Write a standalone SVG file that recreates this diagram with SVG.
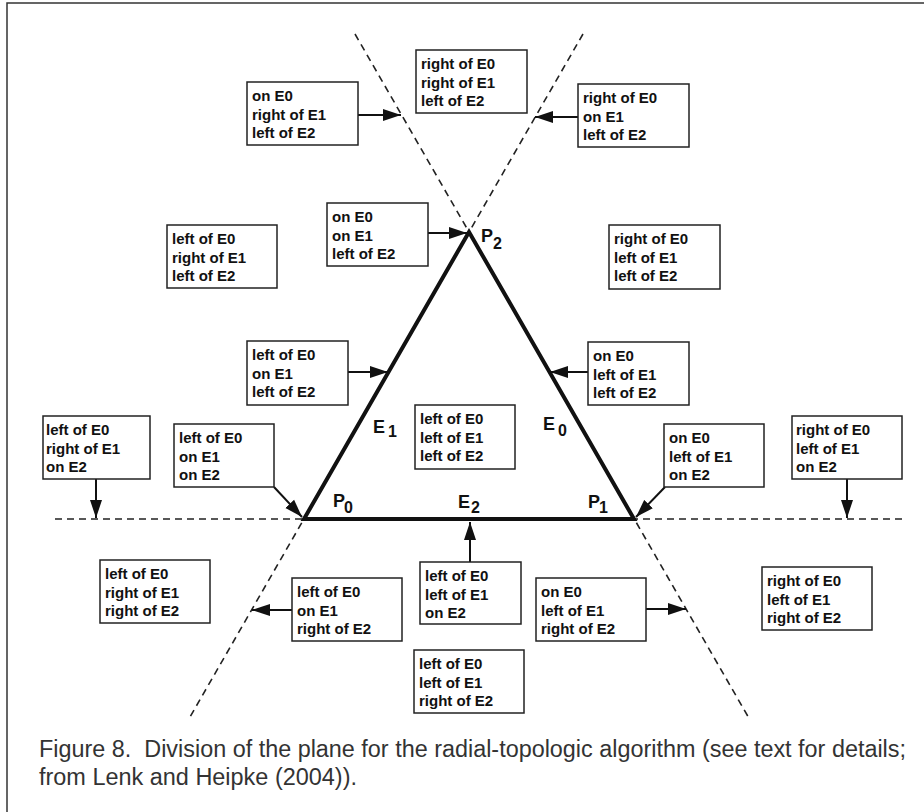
<svg xmlns="http://www.w3.org/2000/svg" width="924" height="812" viewBox="0 0 924 812">
<defs>
<style>
.box rect{fill:#fff;stroke:#222;stroke-width:1.5}
.box text{font-family:"Liberation Sans",Arial,sans-serif;font-weight:bold;font-size:15px;fill:#111}
.lbl{font-family:"Liberation Sans",Arial,sans-serif;font-weight:bold;font-size:18px;fill:#111}
.sub{font-size:16px}
.dash{stroke:#222;stroke-width:1.6;stroke-dasharray:7 5;fill:none}
.arr{stroke:#111;stroke-width:2;fill:none;marker-end:url(#ah)}
.cap{font-family:"Liberation Sans",Arial,sans-serif;font-size:23px;fill:#333}
</style>
<marker id="ah" markerUnits="userSpaceOnUse" markerWidth="19" markerHeight="13" refX="18" refY="6.5" orient="auto">
<path d="M0,0.5 L18,6.5 L0,12.5 z" fill="#111"/>
</marker>
</defs>
<rect width="924" height="812" fill="#fff"/>
<path d="M7,812 V3 H924" fill="none" stroke="#333" stroke-width="1.5"/>

<g id="plane-lines">
<line class="dash" x1="355" y1="34" x2="750" y2="720"/>
<line class="dash" x1="583" y1="34" x2="190" y2="717"/>
<line class="dash" x1="55" y1="519" x2="903" y2="519"/>
</g>

<g id="triangle">
<polygon points="304,519 634,519 469,232" fill="none" stroke="#111" stroke-width="4" stroke-linejoin="miter"/>
<text class="lbl" x="373" y="433">E<tspan class="sub" dx="3" dy="4">1</tspan></text>
<text class="lbl" x="543" y="430">E<tspan class="sub" dx="3" dy="6">0</tspan></text>
<text class="lbl" x="333" y="507">P<tspan class="sub" dx="-1" dy="6">0</tspan></text>
<text class="lbl" x="458" y="508">E<tspan class="sub" dx="1" dy="5">2</tspan></text>
<text class="lbl" x="588" y="508">P<tspan class="sub" dx="-1" dy="5">1</tspan></text>
<text class="lbl" x="481" y="242">P<tspan class="sub" dx="0" dy="7">2</tspan></text>
</g>

<g id="connectors">
<line class="arr" x1="358" y1="115" x2="401" y2="115"/>
<line class="arr" x1="578" y1="117" x2="535" y2="117"/>
<line class="arr" x1="428" y1="233" x2="467" y2="233"/>
<line class="arr" x1="348" y1="372" x2="388" y2="372"/>
<line class="arr" x1="588" y1="372" x2="550" y2="372"/>
<line class="arr" x1="96" y1="479" x2="96" y2="518"/>
<line class="arr" x1="847" y1="479" x2="847" y2="518"/>
<line class="arr" x1="274" y1="487" x2="302" y2="517"/>
<line class="arr" x1="665" y1="487" x2="636" y2="517"/>
<line class="arr" x1="470" y1="562" x2="470" y2="522"/>
<line class="arr" x1="292" y1="610" x2="252" y2="610"/>
<line class="arr" x1="646" y1="609" x2="686" y2="609"/>
</g>

<g id="n1" class="box"><rect x="247" y="82" width="111" height="63"/><text x="252" y="101">on E0<tspan x="252" dy="18.5">right of E1</tspan><tspan x="252" dy="18.5">left of E2</tspan></text></g>
<g id="n2" class="box"><rect x="416" y="50" width="111" height="63"/><text x="421" y="69">right of E0<tspan x="421" dy="18.5">right of E1</tspan><tspan x="421" dy="18.5">left of E2</tspan></text></g>
<g id="n3" class="box"><rect x="578" y="84" width="111" height="63"/><text x="583" y="103">right of E0<tspan x="583" dy="18.5">on E1</tspan><tspan x="583" dy="18.5">left of E2</tspan></text></g>
<g id="n4" class="box"><rect x="327" y="203" width="101" height="63"/><text x="332" y="222">on E0<tspan x="332" dy="18.5">on E1</tspan><tspan x="332" dy="18.5">left of E2</tspan></text></g>
<g id="n5" class="box"><rect x="167" y="225" width="110" height="63"/><text x="172" y="244">left of E0<tspan x="172" dy="18.5">right of E1</tspan><tspan x="172" dy="18.5">left of E2</tspan></text></g>
<g id="n6" class="box"><rect x="609" y="225" width="111" height="64"/><text x="614" y="244">right of E0<tspan x="614" dy="18.5">left of E1</tspan><tspan x="614" dy="18.5">left of E2</tspan></text></g>
<g id="n7" class="box"><rect x="247" y="341" width="101" height="64"/><text x="252" y="360">left of E0<tspan x="252" dy="18.5">on E1</tspan><tspan x="252" dy="18.5">left of E2</tspan></text></g>
<g id="n8" class="box"><rect x="588" y="342" width="101" height="63"/><text x="593" y="361">on E0<tspan x="593" dy="18.5">left of E1</tspan><tspan x="593" dy="18.5">left of E2</tspan></text></g>
<g id="n9" class="box"><rect x="415" y="405" width="100" height="64"/><text x="420" y="424">left of E0<tspan x="420" dy="18.5">left of E1</tspan><tspan x="420" dy="18.5">left of E2</tspan></text></g>
<g id="n10" class="box"><rect x="43" y="416" width="107" height="63"/><text x="46" y="435">left of E0<tspan x="46" dy="18.5">right of E1</tspan><tspan x="46" dy="18.5">on E2</tspan></text></g>
<g id="n11" class="box"><rect x="174" y="424" width="100" height="63"/><text x="179" y="443">left of E0<tspan x="179" dy="18.5">on E1</tspan><tspan x="179" dy="18.5">on E2</tspan></text></g>
<g id="n12" class="box"><rect x="664" y="424" width="100" height="63"/><text x="669" y="443">on E0<tspan x="669" dy="18.5">left of E1</tspan><tspan x="669" dy="18.5">on E2</tspan></text></g>
<g id="n13" class="box"><rect x="792" y="416" width="110" height="63"/><text x="796" y="435">right of E0<tspan x="796" dy="18.5">left of E1</tspan><tspan x="796" dy="18.5">on E2</tspan></text></g>
<g id="n14" class="box"><rect x="100" y="560" width="110" height="63"/><text x="105" y="579">left of E0<tspan x="105" dy="18.5">right of E1</tspan><tspan x="105" dy="18.5">right of E2</tspan></text></g>
<g id="n15" class="box"><rect x="292" y="578" width="110" height="63"/><text x="297" y="597">left of E0<tspan x="297" dy="18.5">on E1</tspan><tspan x="297" dy="18.5">right of E2</tspan></text></g>
<g id="n16" class="box"><rect x="420" y="562" width="101" height="62"/><text x="425" y="581">left of E0<tspan x="425" dy="18.5">left of E1</tspan><tspan x="425" dy="18.5">on E2</tspan></text></g>
<g id="n17" class="box"><rect x="536" y="578" width="110" height="63"/><text x="541" y="597">on E0<tspan x="541" dy="18.5">left of E1</tspan><tspan x="541" dy="18.5">right of E2</tspan></text></g>
<g id="n18" class="box"><rect x="414" y="650" width="110" height="63"/><text x="419" y="669">left of E0<tspan x="419" dy="18.5">left of E1</tspan><tspan x="419" dy="18.5">right of E2</tspan></text></g>
<g id="n19" class="box"><rect x="762" y="567" width="110" height="63"/><text x="767" y="586">right of E0<tspan x="767" dy="18.5">left of E1</tspan><tspan x="767" dy="18.5">right of E2</tspan></text></g>

<g id="caption">
<text class="cap" x="39" y="757" textLength="867" lengthAdjust="spacingAndGlyphs">Figure 8.&#160; Division of the plane for the radial-topologic algorithm (see text for details;</text>
<text class="cap" x="39" y="785" textLength="318" lengthAdjust="spacingAndGlyphs">from Lenk and Heipke (2004)).</text>
</g>
</svg>
